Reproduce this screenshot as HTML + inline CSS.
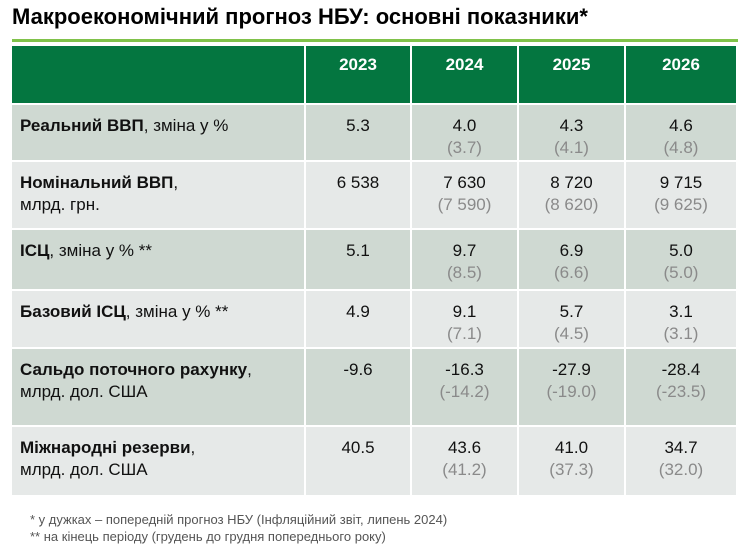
<!DOCTYPE html>
<html><head><meta charset="utf-8"><style>
body{margin:0;width:750px;height:558px;background:#fff;font-family:"Liberation Sans",sans-serif;position:relative;overflow:hidden}
.t{position:absolute;left:12px;top:4px;font-size:22px;font-weight:bold;color:#000}
.gl{position:absolute;left:12px;top:39px;width:726px;height:3px;background:#80c24a}
.c{position:absolute;box-sizing:border-box;font-size:17px;line-height:22px;color:#111}
.h{background:#047640;color:#fff;font-weight:bold;text-align:center;padding-top:8px}
.d{background:#cfd9d2}.l{background:#e6e9e8}
.lab{padding:10px 0 0 8px}
.v{text-align:center;padding-top:10px}
.p{color:#8a8a8a}
.f{position:absolute;left:30px;font-size:13px;color:#555}
</style></head><body>
<div class="t">Макроекономічний прогноз НБУ: основні показники*</div>
<div class="gl"></div>
<div id="tbl"></div>
<div class="f" style="top:512px">* у дужках – попередній прогноз НБУ (Інфляційний звіт, липень 2024)</div>
<div class="f" style="top:529px">** на кінець періоду (грудень до грудня попереднього року)</div>
<script>
const years=["2023","2024","2025","2026"];
const labels=[["<b>Реальний ВВП</b>, зміна у %"],["<b>Номінальний ВВП</b>,","млрд. грн."],["<b>ІСЦ</b>, зміна у % **"],["<b>Базовий ІСЦ</b>, зміна у % **"],["<b>Сальдо поточного рахунку</b>,","млрд. дол. США"],["<b>Міжнародні резерви</b>,","млрд. дол. США"]];
const current=[["5.3","4.0","4.3","4.6"],["6 538","7 630","8 720","9 715"],["5.1","9.7","6.9","5.0"],["4.9","9.1","5.7","3.1"],["-9.6","-16.3","-27.9","-28.4"],["40.5","43.6","41.0","34.7"]];
const previous=[["","(3.7)","(4.1)","(4.8)"],["","(7 590)","(8 620)","(9 625)"],["","(8.5)","(6.6)","(5.0)"],["","(7.1)","(4.5)","(3.1)"],["","(-14.2)","(-19.0)","(-23.5)"],["","(41.2)","(37.3)","(32.0)"]];
const xs=[12,306,412,519,626,738];
const ys=[46,105,162,230,291,349,427,497];
const tbl=document.getElementById('tbl');
function cell(x0,x1,y0,y1,cls,html,name){
 const e=document.createElement('div');e.className='c '+cls;
 e.style.left=x0+'px';e.style.top=y0+'px';e.style.width=(x1-x0-2)+'px';e.style.height=(y1-y0-2)+'px';
 e.innerHTML=html;
 
 
 tbl.appendChild(e);
}
cell(xs[0],xs[1],ys[0],ys[1],'h','','header-blank');
years.forEach((y,i)=>cell(xs[i+1],xs[i+2],ys[0],ys[1],'h',y,'header-'+y));
labels.forEach((lb,r)=>{
 const bg=r%2==0?'d':'l';
 cell(xs[0],xs[1],ys[r+1],ys[r+2],bg+' lab',lb.join('<br>'),'row-label-'+(r+1));
 years.forEach((y,i)=>{
  let h=current[r][i];if(previous[r][i])h+='<br><span class="p">'+previous[r][i]+'</span>';
  cell(xs[i+1],xs[i+2],ys[r+1],ys[r+2],bg+' v',h,'value-r'+(r+1)+'-'+y);
 });
});
</script>
</body></html>
